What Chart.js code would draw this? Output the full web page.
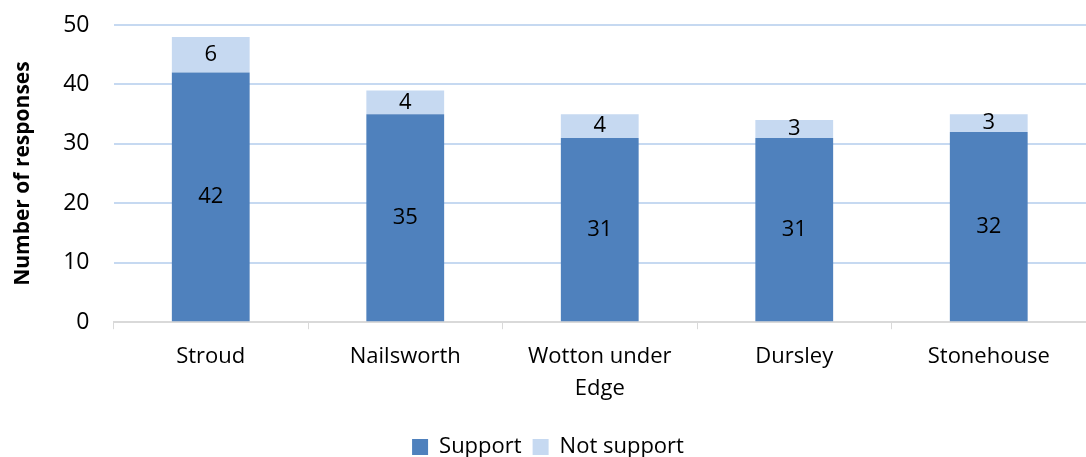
<!DOCTYPE html>
<html>
<head>
<meta charset="utf-8">
<script src="https://cdn.jsdelivr.net/npm/chart.js@4"></script>
<style>
  html, body { margin: 0; padding: 0; background: #fff; }
  #wrap { width: 1086px; height: 457px; }
</style>
</head>
<body>
<div id="wrap"><canvas id="myChart"></canvas></div>
<script>
const categories = ['Stroud', 'Nailsworth', ['Wotton under', 'Edge'], 'Dursley', 'Stonehouse'];
const support = [42, 35, 31, 31, 32];
const notSupport = [6, 4, 4, 3, 3];
const yTicks = [0, 10, 20, 30, 40, 50];

const fontFamily = "'Open Sans', 'Liberation Sans', sans-serif";

// draws the value in the middle of each bar segment
const barLabels = {
    id: 'barLabels',
    afterDatasetsDraw(chart) {
        const ctx = chart.ctx;
        ctx.save();
        ctx.fillStyle = '#000';
        ctx.font = '22px ' + fontFamily;
        ctx.textAlign = 'center';
        ctx.textBaseline = 'middle';
        chart.data.datasets.forEach((ds, i) => {
            chart.getDatasetMeta(i).data.forEach((bar, j) => {
                const mid = (bar.y + bar.base) / 2;
                ctx.fillText(ds.data[j], bar.x, mid);
            });
        });
        ctx.restore();
    }
};

const ctx = document.getElementById('myChart').getContext('2d');
let myChart = new Chart(ctx, {
    type: 'bar',
    data: {
        labels: categories,
        datasets: [{
            label: 'Support',
            data: support,
            backgroundColor: '#4f81bd',
            barPercentage: 0.4,
            categoryPercentage: 1
        }, {
            label: 'Not support',
            data: notSupport,
            backgroundColor: '#c6d9f1',
            barPercentage: 0.4,
            categoryPercentage: 1
        }]
    },
    options: {
        responsive: true,
        maintainAspectRatio: false,
        animation: false,
        layout: { padding: { left: 10, right: 0, top: 0, bottom: 0 } },
        scales: {
            x: {
                stacked: true,
                afterFit(axis) {
                    axis.height += 8;
                },
                grid: {
                    drawOnChartArea: false,
                    drawTicks: true,
                    tickLength: 7,
                    color: '#d9d9d9'
                },
                border: { color: '#d9d9d9', width: 2 },
                ticks: {
                    color: '#000',
                    font: { family: fontFamily, size: 22, lineHeight: 1.45 },
                    padding: 12,
                    maxRotation: 0
                }
            },
            y: {
                stacked: true,
                min: 0,
                max: 50,
                afterBuildTicks(axis) {
                    axis.ticks = yTicks.map(v => ({ value: v }));
                },
                afterFit(axis) {
                    // tick padding would otherwise push the top of the plot down
                    axis.paddingTop = 25;
                },
                grid: {
                    color: '#c6d9f1',
                    lineWidth: 2,
                    drawTicks: false
                },
                border: { display: false },
                ticks: {
                    color: '#000',
                    font: { family: fontFamily, size: 23 },
                    padding: 24
                },
                title: {
                    display: true,
                    text: 'Number of responses',
                    color: '#000',
                    font: { family: fontFamily, size: 21, weight: 'bold' },
                    padding: { top: 0, bottom: 4 }
                }
            }
        },
        plugins: {
            legend: {
                position: 'bottom',
                maxHeight: 32,
                labels: {
                    color: '#000',
                    boxWidth: 16,
                    boxHeight: 16,
                    padding: 11,
                    font: { family: fontFamily, size: 22 }
                }
            },
            tooltip: { enabled: false }
        }
    },
    plugins: [barLabels]
});
</script>
</body>
</html>
